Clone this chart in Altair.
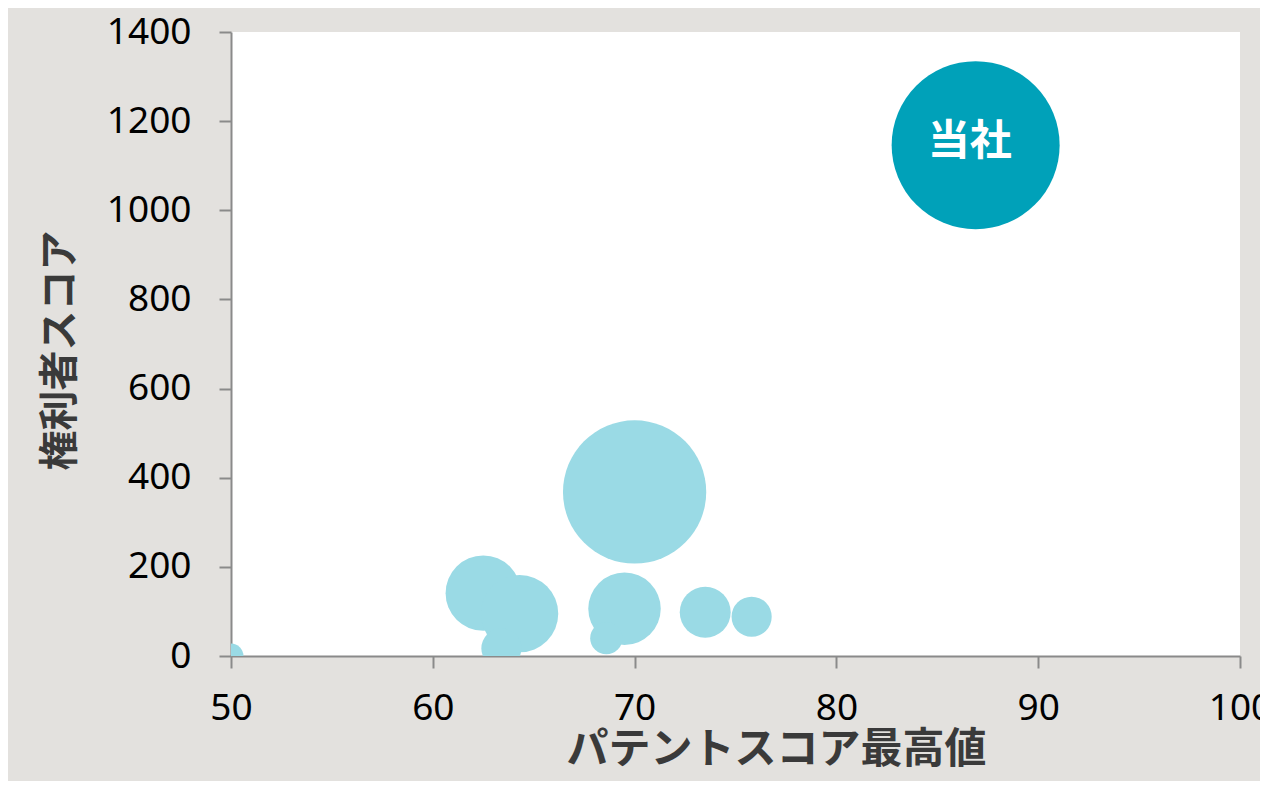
import altair as alt
import pandas as pd

# ---- data ----
companies = ["競合1", "競合2", "競合3", "競合4", "競合5", "競合6", "競合7", "競合8", "競合9", "当社"]
patent_max = [50.0, 62.5, 64.3, 63.4, 69.5, 68.6, 70.0, 73.5, 75.8, 86.9]
holder_score = [0, 141, 95, 17, 106, 40, 368, 98, 88, 1146]
bubble_value = [2.2, 20.1, 21.2, 5.7, 18.6, 3.7, 72.7, 9.2, 5.7, 100]
groups = ["他社"] * 9 + ["当社"]

x_ticks = [50, 60, 70, 80, 90, 100]
y_ticks = [0, 200, 400, 600, 800, 1000, 1200, 1400]

df = pd.DataFrame({
    "company": companies,
    "x": patent_max,
    "y": holder_score,
    "v": bubble_value,
    "group": groups,
})

FONT = "Noto Sans"
CJK = "Noto Sans CJK JP"

x_enc = alt.X(
    "x:Q",
    scale=alt.Scale(domain=[50, 100], nice=False, zero=False),
    axis=alt.Axis(
        values=x_ticks,
        format="d",
        title="パテントスコア最高値",
        titleFont=CJK,
        titleFontSize=42,
        titleFontWeight="bold",
        titleColor="#3a3a3a",
        titleX=545,
        titleY=93,
        titleAlign="center",
        titleBaseline="middle",
        labelFont=FONT,
        labelFontSize=37,
        labelColor="#000000",
        labelPadding=22,
        tickSize=12,
        tickColor="#8a8a8a",
        tickWidth=2,
        domainColor="#8a8a8a",
        domainWidth=2,
        grid=False,
        labelFlush=False,
        labelOverlap=False,
    ),
)
y_enc = alt.Y(
    "y:Q",
    scale=alt.Scale(domain=[0, 1400], nice=False),
    axis=alt.Axis(
        values=y_ticks,
        format="d",
        title="権利者スコア",
        titleFont=CJK,
        titleFontSize=40,
        titleFontWeight="bold",
        titleColor="#3a3a3a",
        titleAngle=270,
        titleX=-171,
        titleY=318,
        titleAlign="center",
        titleBaseline="middle",
        labelFont=FONT,
        labelFontSize=37,
        labelColor="#000000",
        labelPadding=28,
        tickSize=12,
        tickColor="#8a8a8a",
        tickWidth=2,
        domainColor="#8a8a8a",
        domainWidth=2,
        grid=False,
        labelFlush=False,
        labelOverlap=False,
    ),
)

bubbles = alt.Chart(df).mark_circle(
    opacity=1, clip=True
).encode(
    x=x_enc,
    y=y_enc,
    size=alt.Size("v:Q", scale=alt.Scale(domain=[0, 100], range=[0, 28224]), legend=None),
    color=alt.Color(
        "group:N",
        scale=alt.Scale(domain=["他社", "当社"], range=["#9ADAE5", "#00A1B9"]),
        legend=None,
    ),
)

label = alt.Chart(df).transform_filter(
    alt.datum.group == "当社"
).mark_text(
    font=CJK, fontSize=42, fontWeight="bold", color="white", dx=-6, dy=-3,
    align="center", baseline="middle",
).encode(
    x=alt.X("x:Q", scale=alt.Scale(domain=[50, 100], nice=False, zero=False)),
    y=alt.Y("y:Q", scale=alt.Scale(domain=[0, 1400], nice=False)),
    text="company:N",
)

chart = alt.layer(bubbles, label).properties(
    width=1009,
    height=624,
    autosize=alt.AutoSizeParams(type="none"),
    padding={"left": 223, "top": 24, "right": 20, "bottom": 125},
    background="#E3E1DE",
).configure_view(
    fill="white", stroke=None
)

chart.save("out.html", embed_options={"renderer": "svg", "actions": False})
